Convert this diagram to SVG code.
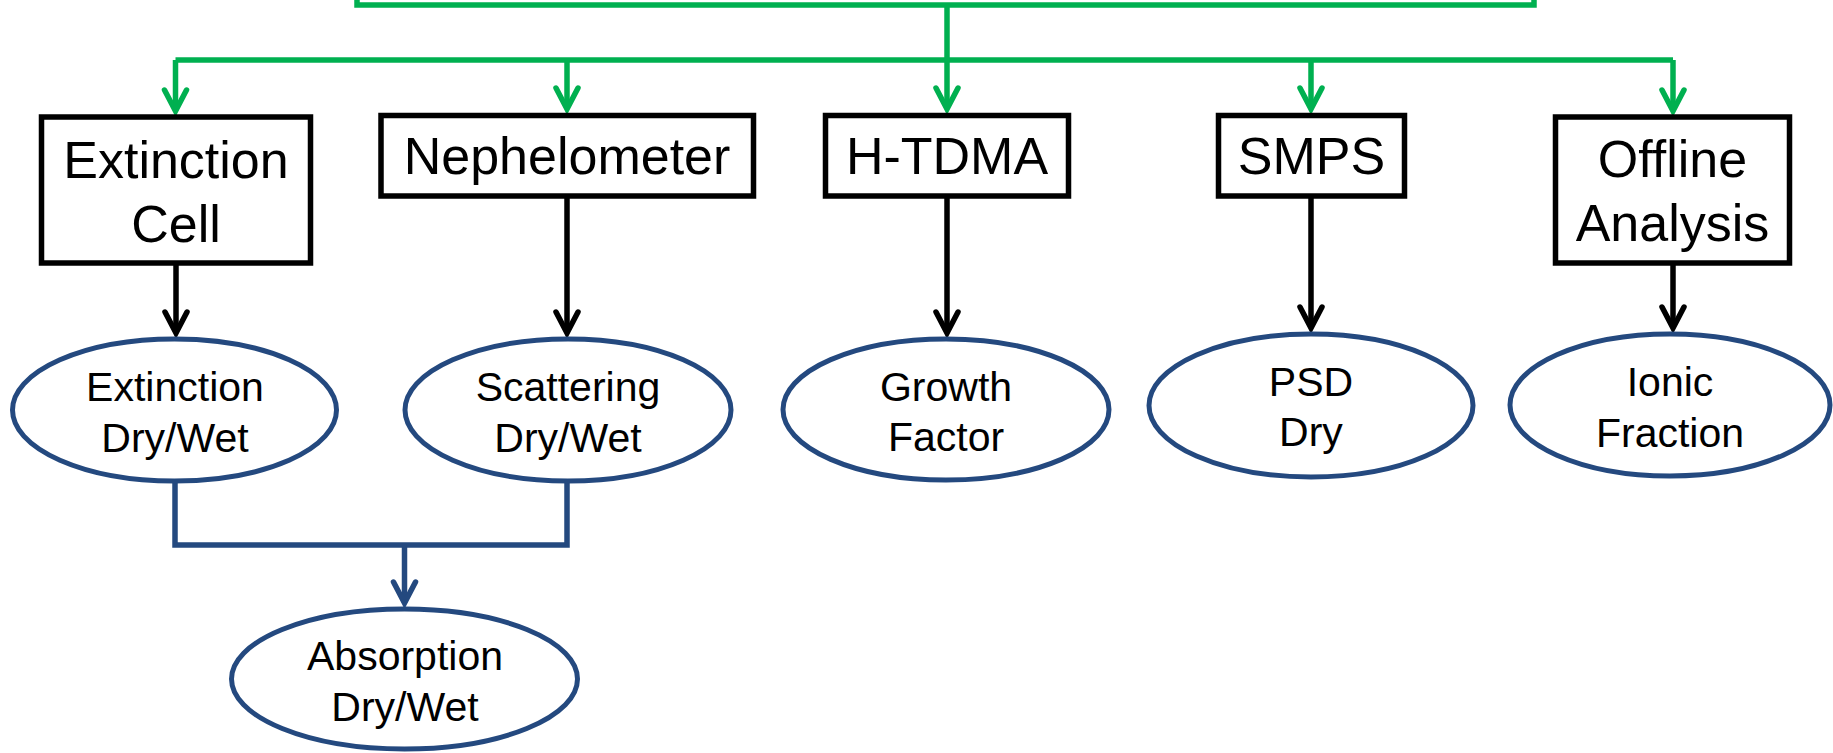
<svg xmlns="http://www.w3.org/2000/svg" width="1833" height="753" viewBox="0 0 1833 753">
<defs>
<style>
.box{fill:#fff;stroke:#000;stroke-width:5.5}
.ell{fill:#fff;stroke:#24497F;stroke-width:5}
.bt{font-family:"Liberation Sans",Arial,sans-serif;font-size:52px;fill:#000;text-anchor:middle}
.et{font-family:"Liberation Sans",Arial,sans-serif;font-size:41px;fill:#000;text-anchor:middle}
.g{fill:none;stroke:#00B050;stroke-width:5.5}
.k{fill:none;stroke:#000;stroke-width:5.5}
.b{fill:none;stroke:#24497F;stroke-width:5.5}
</style>
<marker id="ag" markerUnits="userSpaceOnUse" markerWidth="40" markerHeight="40" refX="0" refY="0" orient="auto" overflow="visible"><path d="M-21,-11 L0,0 L-21,11" fill="none" stroke="#00B050" stroke-width="5.5" stroke-linecap="round" stroke-linejoin="miter"/></marker>
<marker id="ak" markerUnits="userSpaceOnUse" markerWidth="40" markerHeight="40" refX="0" refY="0" orient="auto" overflow="visible"><path d="M-21,-11 L0,0 L-21,11" fill="none" stroke="#000" stroke-width="5.5" stroke-linecap="round" stroke-linejoin="miter"/></marker>
<marker id="ab" markerUnits="userSpaceOnUse" markerWidth="40" markerHeight="40" refX="0" refY="0" orient="auto" overflow="visible"><path d="M-21,-11 L0,0 L-21,11" fill="none" stroke="#24497F" stroke-width="5.5" stroke-linecap="round" stroke-linejoin="miter"/></marker>
</defs>
<g id="connectors">
<path class="g" d="M357,-5 V5 H1534 V-5"/>
<path class="g" d="M947,5 V109" marker-end="url(#ag)"/>
<path class="g" d="M175.5,60 H1673"/>
<path class="g" d="M175.5,60 V111" marker-end="url(#ag)"/>
<path class="g" d="M567,60 V109" marker-end="url(#ag)"/>
<path class="g" d="M1311,60 V109" marker-end="url(#ag)"/>
<path class="g" d="M1673,60 V111" marker-end="url(#ag)"/>
<path class="k" d="M176,265 V333" marker-end="url(#ak)"/>
<path class="k" d="M567,198 V333" marker-end="url(#ak)"/>
<path class="k" d="M947,198 V333" marker-end="url(#ak)"/>
<path class="k" d="M1311,198 V328" marker-end="url(#ak)"/>
<path class="k" d="M1673,265 V328" marker-end="url(#ak)"/>
<path class="b" d="M175,483 V545 H567 V483"/>
<path class="b" d="M404.5,545 V603" marker-end="url(#ab)"/>
</g>
<g id="extinction-cell"><rect class="box" x="41.5" y="117" width="269" height="146"/><text class="bt" x="176" y="178">Extinction</text><text class="bt" x="176" y="242">Cell</text></g>
<g id="nephelometer"><rect class="box" x="381" y="115.5" width="372.5" height="80.5"/><text class="bt" x="567" y="174">Nephelometer</text></g>
<g id="h-tdma"><rect class="box" x="825.5" y="115.5" width="243" height="80.5"/><text class="bt" x="947" y="174">H-TDMA</text></g>
<g id="smps"><rect class="box" x="1218.5" y="115.5" width="186" height="80.5"/><text class="bt" x="1311.5" y="174">SMPS</text></g>
<g id="offline-analysis"><rect class="box" x="1555.5" y="117" width="234" height="146"/><text class="bt" x="1672.5" y="177">Offline</text><text class="bt" x="1672.5" y="241">Analysis</text></g>
<g id="extinction-drywet"><ellipse class="ell" cx="174.5" cy="410" rx="162" ry="71"/><text class="et" x="175" y="401">Extinction</text><text class="et" x="175" y="452">Dry/Wet</text></g>
<g id="scattering-drywet"><ellipse class="ell" cx="568" cy="410" rx="163" ry="71"/><text class="et" x="568" y="401">Scattering</text><text class="et" x="568" y="452">Dry/Wet</text></g>
<g id="absorption-drywet"><ellipse class="ell" cx="404.5" cy="679" rx="173" ry="70"/><text class="et" x="405" y="670">Absorption</text><text class="et" x="405" y="721">Dry/Wet</text></g>
<g id="growth-factor"><ellipse class="ell" cx="946" cy="409.5" rx="163" ry="70.5"/><text class="et" x="946" y="401">Growth</text><text class="et" x="946" y="451">Factor</text></g>
<g id="psd-dry"><ellipse class="ell" cx="1311" cy="405.5" rx="162" ry="71.5"/><text class="et" x="1311" y="396">PSD</text><text class="et" x="1311" y="446">Dry</text></g>
<g id="ionic-fraction"><ellipse class="ell" cx="1670" cy="405" rx="160" ry="71"/><text class="et" x="1670" y="396">Ionic</text><text class="et" x="1670" y="447">Fraction</text></g>
</svg>
